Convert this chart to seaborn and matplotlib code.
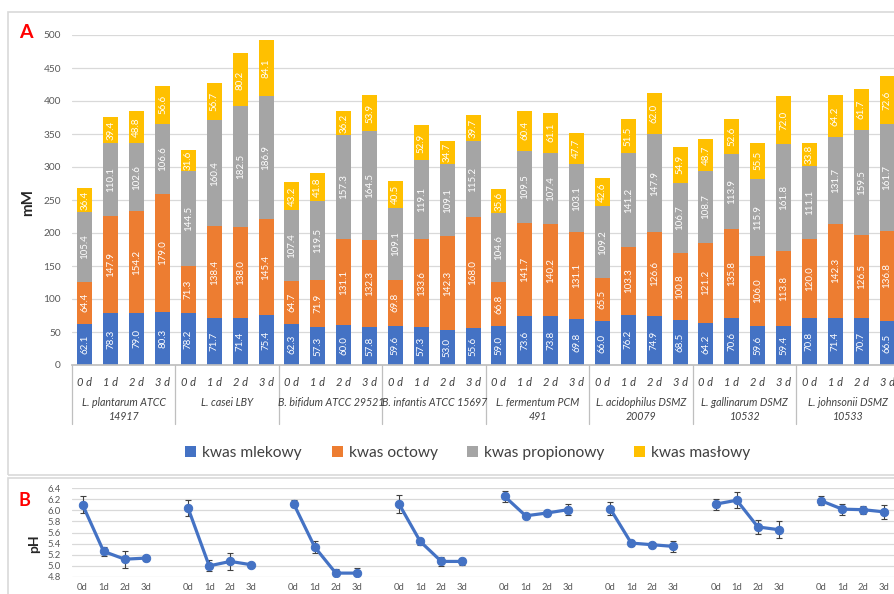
import numpy as np
import pandas as pd
import matplotlib
matplotlib.use("Agg")
import matplotlib.pyplot as plt
import seaborn as sns
from matplotlib.patches import Patch, Rectangle
from matplotlib.transforms import blended_transform_factory

# ---------------- data ----------------
strains = ["L. plantarum ATCC\n14917", "L. casei LBY", "B. bifidum ATCC 29521",
           "B. infantis ATCC 15697", "L. fermentum PCM\n491", "L. acidophilus DSMZ\n20079",
           "L. gallinarum DSMZ\n10532", "L. johnsonii DSMZ\n10533"]
days_A = ["0 d", "1 d", "2 d", "3 d"]
days_B = ["0d", "1d", "2d", "3d"]
acids = ["kwas mlekowy", "kwas octowy", "kwas propionowy", "kwas masłowy"]

mlekowy = [62.1, 78.3, 79.0, 80.3, 78.2, 71.7, 71.4, 75.4,
           62.3, 57.3, 60.0, 57.8, 59.6, 57.3, 53.0, 55.6,
           59.0, 73.6, 73.8, 69.8, 66.0, 76.2, 74.9, 68.5,
           64.2, 70.6, 59.6, 59.4, 70.8, 71.4, 70.7, 66.5]
octowy = [64.4, 147.9, 154.2, 179.0, 71.3, 138.4, 138.0, 145.4,
          64.7, 71.9, 131.1, 132.3, 69.8, 133.6, 142.3, 168.0,
          66.8, 141.7, 140.2, 131.1, 65.5, 103.3, 126.6, 100.8,
          121.2, 135.8, 106.0, 113.8, 120.0, 142.3, 126.5, 136.8]
propionowy = [105.4, 110.1, 102.6, 106.6, 144.5, 160.4, 182.5, 186.9,
              107.4, 119.5, 157.3, 164.5, 109.1, 119.1, 109.1, 115.2,
              104.6, 109.5, 107.4, 103.1, 109.2, 141.2, 147.9, 106.7,
              108.7, 113.9, 115.9, 161.8, 111.1, 131.7, 159.5, 161.7]
maslowy = [36.4, 39.4, 48.8, 56.6, 31.6, 56.7, 80.2, 84.1,
           43.2, 41.8, 36.2, 53.9, 40.5, 52.9, 34.7, 39.7,
           35.6, 60.4, 61.1, 47.7, 42.6, 51.5, 62.0, 54.9,
           48.7, 52.6, 55.5, 72.0, 33.8, 64.2, 61.7, 72.6]

ph_mean = [6.10, 5.26, 5.12, 5.14,
           6.04, 5.00, 5.08, 5.02,
           6.12, 5.34, 4.87, 4.87,
           6.11, 5.44, 5.08, 5.08,
           6.25, 5.90, 5.95, 6.01,
           6.03, 5.41, 5.38, 5.35,
           6.11, 6.18, 5.70, 5.65,
           6.17, 6.02, 6.01, 5.97]
ph_err = [0.15, 0.08, 0.15, 0.05,
          0.14, 0.10, 0.15, 0.03,
          0.07, 0.10, 0.08, 0.10,
          0.16, 0.07, 0.08, 0.07,
          0.10, 0.03, 0.06, 0.10,
          0.11, 0.06, 0.03, 0.10,
          0.10, 0.14, 0.12, 0.15,
          0.08, 0.10, 0.07, 0.13]

colors = ["#4472C4", "#ED7D31", "#A5A5A5", "#FFC000"]
FONT = "Lato"

# ---------------- figure ----------------
sns.set_theme(style="white")
plt.rcParams["font.family"] = [FONT, "DejaVu Sans"]

W, H = 895, 594
fig = plt.figure(figsize=(W / 100, H / 100), dpi=100)

def fx(px):
    return px / W

def fy(py):
    return 1 - py / H

# panel frames
fig.add_artist(Rectangle((fx(8), fy(475)), fx(900 - 8), (475 - 12) / H, transform=fig.transFigure,
                         fill=False, ec="#D9D9D9", lw=1.2))
fig.add_artist(Rectangle((fx(8), fy(610)), fx(900 - 8), (610 - 478) / H, transform=fig.transFigure,
                         fill=False, ec="#D9D9D9", lw=1.2))

# ---------------- panel A ----------------
axA = fig.add_axes([fx(72), fy(365), fx(900 - 72), (365 - 35) / H])
n_bars = len(mlekowy)
bar_ids = [f"{g}-{d}" for g in range(len(strains)) for d in range(len(days_A))]
layers = np.vstack([mlekowy, octowy, propionowy, maslowy])
cum = np.cumsum(layers, axis=0)

for k in range(3, -1, -1):
    dfk = pd.DataFrame({"bar": bar_ids, "val": cum[k]})
    sns.barplot(data=dfk, x="bar", y="val", order=bar_ids, color=colors[k], saturation=1,
                width=0.58, linewidth=0, errorbar=None, ax=axA)

# value labels
for k in range(4):
    for i in range(n_bars):
        base = cum[k][i] - layers[k][i]
        axA.text(i, base + layers[k][i] / 2, f"{layers[k][i]:.1f}", rotation=90,
                 ha="center", va="center", color="white", fontsize=7)

axA.set_xlim(-0.5, n_bars - 0.5)
axA.set_ylim(0, 500)
axA.set_yticks(np.arange(0, 501, 50))
axA.yaxis.grid(True, color="#D9D9D9", lw=0.9)
axA.set_axisbelow(True)
for s in ["top", "right", "left"]:
    axA.spines[s].set_visible(False)
axA.spines["bottom"].set_color("#BFBFBF")
axA.tick_params(axis="y", length=0, labelsize=7.3, labelcolor="#595959", pad=8)
axA.set_xticks(range(n_bars))
axA.set_xticklabels(days_A * len(strains), style="italic", fontsize=8, color="#404040")
axA.tick_params(axis="x", length=0, pad=8.5)
axA.set_xlabel("")
axA.set_ylabel("")

trA = blended_transform_factory(axA.transData, fig.transFigure)
for g in range(len(strains) + 1):
    axA.plot([g * 4 - 0.5, g * 4 - 0.5], [fy(365), fy(424)], transform=trA, color="#BFBFBF",
             lw=0.9, clip_on=False)
for g, name in enumerate(strains):
    axA.text(g * 4 + 1.5, fy(397), name, transform=trA, ha="center", va="top",
             style="italic", fontsize=7.7, color="#404040", linespacing=1.3)

fig.text(fx(26), fy(33), "A", color="#FF0000", fontsize=14, fontweight="bold", ha="center", va="center")
fig.text(fx(28), fy(202), "mM", rotation=90, fontsize=11, fontweight="bold", ha="center", va="center")

handles = [Patch(facecolor=c, edgecolor="none") for c in colors]
fig.legend(handles, acids, loc="center", bbox_to_anchor=(fx(468), fy(453)), ncol=4, frameon=False,
           fontsize=11.2, handlelength=0.7, handleheight=0.7, handletextpad=0.4, columnspacing=1.9,
           labelcolor="#404040")

# ---------------- panel B ----------------
axB = fig.add_axes([fx(72), fy(577), fx(895 - 72), (577 - 488) / H])
pos = [g * 5 + d for g in range(len(strains)) for d in range(len(days_B))]
grp = [g for g in range(len(strains)) for d in range(len(days_B))]
dfB = pd.DataFrame({"pos": pos, "ph": ph_mean, "err": ph_err, "grp": grp})
sns.lineplot(data=dfB, x="pos", y="ph", units="grp", estimator=None, color="#4472C4", lw=2.3,
             marker="o", markersize=6, markeredgecolor="#4472C4", ax=axB)
axB.errorbar(dfB["pos"], dfB["ph"], yerr=dfB["err"], fmt="none", ecolor="#404040",
             elinewidth=0.8, capsize=2, capthick=0.8, zorder=1)
axB.set_xlim(-0.5, max(pos) + 0.5)
axB.set_ylim(4.8, 6.4)
axB.set_yticks(np.round(np.arange(4.8, 6.41, 0.2), 1))
axB.set_yticklabels([f"{v:.1f}" for v in np.arange(4.8, 6.41, 0.2)])
axB.yaxis.grid(True, color="#D9D9D9", lw=0.9)
axB.set_axisbelow(True)
for s in ["top", "right", "left", "bottom"]:
    axB.spines[s].set_visible(False)
axB.tick_params(axis="y", length=0, labelsize=6.8, labelcolor="#595959", pad=8)
axB.set_xticks(pos)
axB.set_xticklabels(days_B * len(strains), fontsize=6.8, color="#595959")
axB.tick_params(axis="x", length=0, pad=4)
axB.set_xlabel("")
axB.set_ylabel("")

fig.text(fx(24), fy(500), "B", color="#FF0000", fontsize=13, fontweight="bold", ha="center", va="center")
fig.text(fx(34), fy(544), "pH", rotation=90, fontsize=10, fontweight="bold", ha="center", va="center")

fig.savefig("out.png", dpi=100)
